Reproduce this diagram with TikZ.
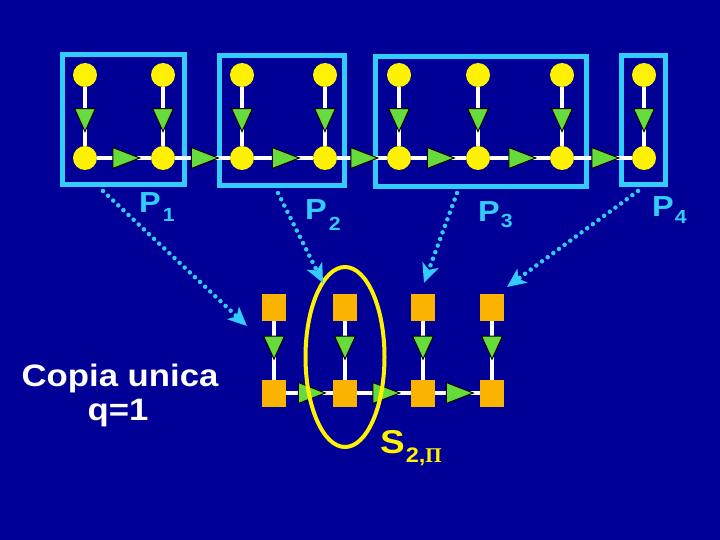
\documentclass[tikz,border=0pt]{standalone}
\usepackage{fontspec}
\setmainfont{Liberation Sans}
\newfontfamily\lab[FakeStretch=1.12]{Liberation Sans}
\newfontfamily\piserif{Liberation Serif}
\usetikzlibrary{shapes.geometric,arrows.meta}
\definecolor{bg}{RGB}{0,0,150}
\definecolor{cyanc}{RGB}{51,204,255}
\definecolor{grn}{RGB}{102,220,60}
\definecolor{org}{RGB}{250,180,0}
\begin{document}
\begin{tikzpicture}[x=1pt,y=-1pt,
  circ/.style={circle, fill=yellow, minimum size=24pt, inner sep=0pt, outer sep=0pt},
  sqn/.style={rectangle, fill=org, minimum width=24pt, minimum height=27pt, inner sep=0pt, outer sep=0pt},
  htri/.style={isosceles triangle, isosceles triangle stretches, fill=grn, draw=black, line width=1pt,
               minimum height=27pt, minimum width=21pt, inner sep=0pt},
  vtri/.style={htri, rotate=-90, minimum height=23pt, minimum width=21pt},
  wline/.style={draw=white, line width=3.5pt},
  pbox/.style={rectangle, draw=cyanc, line width=5pt, inner sep=0pt},
  plab/.style={anchor=base west, text=cyanc, font=\lab\bfseries\fontsize{29}{29}\selectfont, inner sep=0pt},
  dotarr/.style={draw=cyanc, line width=4.5pt, line cap=round, dash pattern=on 0pt off 7pt,
                 -{Stealth[length=19pt,width=17pt,inset=5pt]}},
]
\fill[bg] (0,0) rectangle (720,540);
\useasboundingbox (0,0) rectangle (720,540);

% boxes
\node[pbox, minimum width=122pt, minimum height=130pt] (p1box) at (123.5,119.5) {};
\node[pbox, minimum width=125pt, minimum height=130pt] (p2box) at (282,120.5) {};
\node[pbox, minimum width=211pt, minimum height=130pt] (p3box) at (481,121.5) {};
\node[pbox, minimum width=44pt, minimum height=129pt] (p4box) at (643.5,120) {};

% top row
\foreach \i/\x in {1/85,2/163,3/242,4/325,5/399,6/478,7/562,8/644} {
  \node[circ] (t\i) at (\x,75) {};
  \node[circ] (b\i) at (\x,158) {};
}
\foreach \i in {1,...,8}
  \draw[wline] (t\i) -- node[vtri, pos=0.48] (vt\i) {} (b\i);
\foreach \i [evaluate=\i as \j using int(\i+1)] in {1,...,7}
  \draw[wline] (b\i) -- node[htri, xshift=-4pt] (ht\i) {} (b\j);

% bottom row
\foreach \i/\x in {1/274,2/345,3/423,4/492} {
  \node[sqn] (st\i) at (\x,307) {};
  \node[sqn] (sb\i) at (\x,393) {};
}
\foreach \i in {1,...,4}
  \draw[wline] (st\i) -- node[vtri, pos=0.38] (svt\i) {} (sb\i);
\foreach \i [evaluate=\i as \j using int(\i+1)] in {1,...,3}
  \draw[wline] (sb\i) -- node[htri, xshift=-4pt] (sht\i) {} (sb\j);

% ellipse
\node[ellipse, draw=yellow, line width=4pt, minimum width=79pt, minimum height=180pt, inner sep=0pt] (ell) at (345,357) {};

% labels
\node[plab] (l1) at (139,213) {P\kern2pt\raisebox{-9pt}{\fontsize{19}{19}\selectfont 1}};
\node[plab] (l2) at (305,220) {P\kern2pt\raisebox{-10pt}{\fontsize{19}{19}\selectfont 2}};
\node[plab] (l3) at (478,222) {P\kern1pt\raisebox{-6pt}{\fontsize{19}{19}\selectfont 3}};
\node[plab] (l4) at (652,217) {P\kern1pt\raisebox{-6pt}{\fontsize{19}{19}\selectfont 4}};

\node[anchor=base, text=white, font=\lab\bfseries\fontsize{31}{31}\selectfont, inner sep=0pt] (cp1) at (120,386) {Copia unica};
\node[anchor=base, text=white, font=\lab\bfseries\fontsize{31}{31}\selectfont, inner sep=0pt] (cp2) at (118,420) {q=1};

\node[anchor=base west, text=yellow, font=\lab\bfseries\fontsize{33}{33}\selectfont, inner sep=0pt] (slab) at (380,453)
  {S\kern1pt\raisebox{-9pt}{\fontsize{21}{21}\selectfont 2,{\piserif\bfseries Π}}};

% dotted arrows
\coordinate (a1s) at (103,191); \coordinate (a1e) at (247,326);
\coordinate (a2s) at (278,193); \coordinate (a2e) at (323,283);
\coordinate (a3s) at (457,193); \coordinate (a3e) at (424,283);
\coordinate (a4s) at (638,191); \coordinate (a4e) at (507,287);
\draw[dotarr] (a1s) -- (a1e);
\draw[dotarr] (a2s) -- (a2e);
\draw[dotarr] (a3s) -- (a3e);
\draw[dotarr] (a4s) -- (a4e);
\end{tikzpicture}
\end{document}
